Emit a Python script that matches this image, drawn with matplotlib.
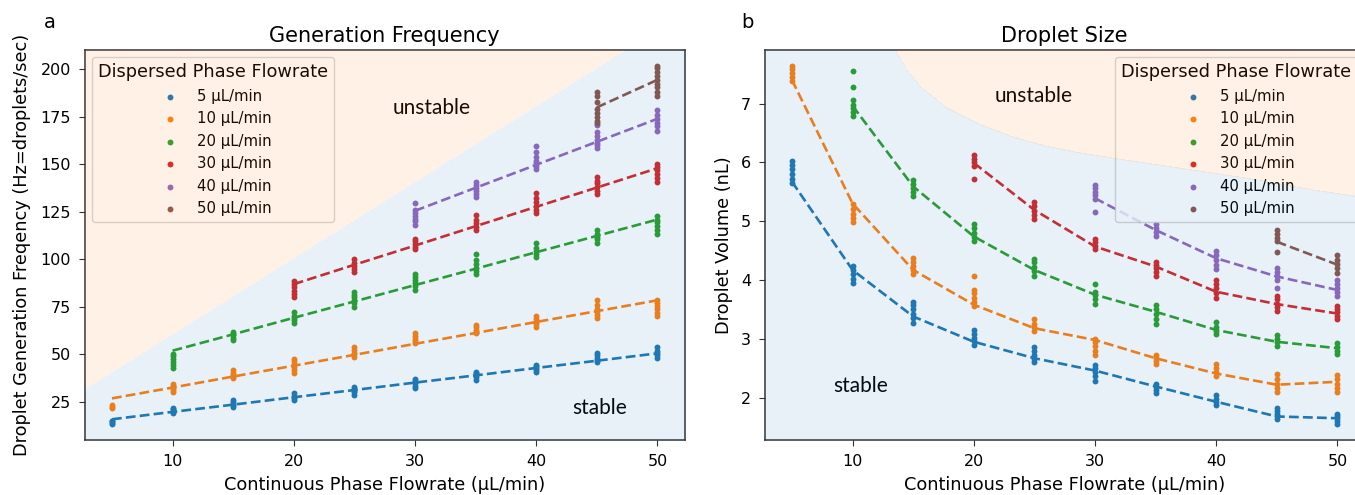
import matplotlib
matplotlib.use("Agg")
import matplotlib.pyplot as plt

# continuous phase flowrates (uL/min)
cont_flow = [5, 10, 15, 20, 25, 30, 35, 40, 45, 50]
disp_labels = ["5 µL/min", "10 µL/min", "20 µL/min", "30 µL/min", "40 µL/min", "50 µL/min"]
colors = ["tab:blue", "tab:orange", "tab:green", "tab:red", "tab:purple", "tab:brown"]
# index in cont_flow where each dispersed flowrate series starts
start_idx = [0, 0, 1, 3, 5, 8]

# ---- generation frequency (Hz), replicate points per continuous flowrate
freq_5 = [[13.4, 14.2, 14.8, 15.2], [19.0, 19.8, 20.4, 21.2, 22.0], [22.3, 23.2, 24.0, 25.0, 26.0],
          [26.0, 27.0, 27.6, 28.4, 29.5], [28.8, 30.0, 31.0, 32.0, 33.0], [32.3, 33.5, 35.0, 36.2, 37.3],
          [36.7, 38.0, 39.0, 40.0, 41.0], [41.0, 42.0, 43.0, 44.0, 44.5], [46.3, 47.3, 48.2, 49.5, 51.0],
          [48.2, 49.5, 50.6, 52.0, 53.8]]
freq_10 = [[21.8, 22.6, 23.2], [30.5, 31.5, 32.5, 33.5, 34.4], [37.5, 38.5, 39.3, 40.5, 41.7],
           [40.3, 42.0, 43.5, 45.0, 46.5, 47.8], [48.8, 50.0, 51.0, 52.5, 53.8], [56.0, 57.0, 58.0, 59.5, 61.5],
           [61.2, 62.0, 63.0, 64.3, 65.4], [64.7, 66.0, 67.0, 68.5, 70.5], [69.2, 71.0, 72.5, 74.0, 76.0, 78.4],
           [70.5, 72.0, 74.0, 75.5, 77.0, 78.8]]
freq_20 = [[42.8, 44.5, 46.0, 47.5, 49.0, 50.5], [57.4, 58.5, 60.0, 61.0, 62.0], [66.5, 68.0, 69.0, 70.5, 72.4],
           [75.2, 77.0, 78.5, 80.0, 81.5, 82.9], [84.0, 86.0, 87.5, 89.0, 91.0, 92.6],
           [92.4, 94.0, 95.5, 97.5, 99.5, 102.7], [101.5, 103.0, 104.5, 106.0, 108.8],
           [108.9, 110.5, 112.0, 113.5, 115.7], [113.5, 115.5, 117.5, 119.5, 121.0, 122.7]]
freq_30 = [[80.5, 82.0, 83.5, 85.5, 87.0, 88.7], [93.6, 95.0, 96.5, 98.0, 100.4], [105.4, 106.5, 108.0, 109.5, 111.0],
           [115.6, 117.0, 119.0, 121.0, 123.3], [124.3, 126.0, 128.0, 130.0, 132.5, 134.9],
           [134.5, 136.0, 138.0, 140.0, 141.5, 143.4], [141.0, 143.0, 145.0, 147.0, 148.5, 150.1]]
freq_40 = [[118.2, 120.0, 121.5, 123.0, 124.5, 126.0, 129.6], [133.0, 134.5, 136.0, 137.5, 139.0, 140.8],
           [147.5, 149.0, 150.5, 152.0, 154.0, 156.5, 159.9], [158.5, 160.0, 161.5, 163.0, 165.0, 167.0, 170.6],
           [167.8, 170.0, 172.0, 174.0, 176.0, 178.5]]
freq_50 = [[171.7, 173.0, 175.0, 177.0, 179.0, 183.0, 186.0, 188.0],
           [186.0, 188.0, 190.5, 192.5, 194.5, 196.5, 198.5, 200.5, 202.0]]

# dashed fit lines (Hz)
freq_fit_5 = [15.9, 19.8, 23.6, 27.5, 31.3, 35.2, 39.0, 42.9, 46.7, 50.6]
freq_fit_10 = [26.9, 32.6, 38.4, 44.1, 49.8, 55.6, 61.3, 67.1, 72.8, 78.5]
freq_fit_20 = [52.0, 60.6, 69.3, 77.9, 86.5, 95.1, 103.8, 112.4, 121.0]
freq_fit_30 = [87.0, 97.2, 107.3, 117.5, 127.7, 137.8, 148.0]
freq_fit_40 = [125.6, 137.7, 149.8, 161.9, 174.0]
freq_fit_50 = [180.0, 194.5]

# ---- droplet volume (nL)
vol_5 = [[5.65, 5.72, 5.8, 5.88, 5.95, 6.02], [3.95, 4.02, 4.1, 4.17, 4.23], [3.27, 3.35, 3.43, 3.5, 3.57, 3.63],
         [2.9, 2.96, 3.02, 3.08, 3.15], [2.6, 2.66, 2.72, 2.79, 2.86], [2.28, 2.36, 2.44, 2.5, 2.56],
         [2.08, 2.13, 2.18, 2.23], [1.88, 1.93, 1.98, 2.04], [1.63, 1.68, 1.72, 1.78, 1.82],
         [1.55, 1.6, 1.65, 1.69, 1.73]]
vol_10 = [[7.38, 7.45, 7.52, 7.58, 7.63], [4.98, 5.05, 5.12, 5.2, 5.3], [4.1, 4.17, 4.24, 4.31, 4.37],
          [3.55, 3.62, 3.7, 3.78, 3.83, 4.07], [3.13, 3.2, 3.26, 3.33], [2.72, 2.8, 2.88, 2.95, 3.0],
          [2.57, 2.63, 2.68, 2.72], [2.37, 2.43, 2.5, 2.57], [2.1, 2.17, 2.24, 2.32, 2.4],
          [2.1, 2.17, 2.24, 2.31, 2.38]]
vol_20 = [[6.78, 6.85, 6.92, 6.97, 7.06, 7.28, 7.56], [5.43, 5.5, 5.57, 5.64, 5.7], [4.66, 4.73, 4.8, 4.88, 4.95],
          [4.07, 4.15, 4.22, 4.3, 4.36], [3.6, 3.67, 3.74, 3.8, 3.94], [3.25, 3.33, 3.42, 3.5, 3.57],
          [3.08, 3.14, 3.2, 3.28], [2.88, 2.94, 3.0, 3.06], [2.74, 2.8, 2.86, 2.93]]
vol_30 = [[5.71, 5.94, 6.0, 6.06, 6.12], [5.03, 5.1, 5.18, 5.25, 5.32], [4.52, 4.58, 4.64, 4.7],
          [4.07, 4.14, 4.2, 4.26, 4.31], [3.7, 3.78, 3.86, 3.93, 4.0], [3.47, 3.54, 3.6, 3.67, 3.72],
          [3.33, 3.39, 3.45, 3.5, 3.55]]
vol_40 = [[5.16, 5.37, 5.44, 5.5, 5.56, 5.62], [4.75, 4.82, 4.88, 4.95], [4.18, 4.26, 4.34, 4.42, 4.5],
          [3.87, 4.0, 4.06, 4.13, 4.2], [3.73, 3.8, 3.87, 3.94, 4.0]]
vol_50 = [[4.48, 4.66, 4.72, 4.79, 4.85], [4.12, 4.2, 4.27, 4.34, 4.42]]

vol_fit_5 = [5.67, 4.17, 3.38, 2.95, 2.67, 2.46, 2.19, 1.93, 1.68, 1.65]
vol_fit_10 = [7.4, 5.3, 4.17, 3.58, 3.18, 2.98, 2.67, 2.41, 2.22, 2.27]
vol_fit_20 = [6.96, 5.59, 4.74, 4.17, 3.75, 3.46, 3.15, 2.95, 2.84]
vol_fit_30 = [5.99, 5.19, 4.57, 4.23, 3.8, 3.59, 3.43]
vol_fit_40 = [5.39, 4.85, 4.37, 4.06, 3.83]
vol_fit_50 = [4.65, 4.26]

# stable / unstable boundaries
bound_a_x = [2.75, 52.25]
bound_a_y = [32.0, 230.0]
bound_b_x = [2.75, 13.1, 13.5, 14.46, 15.56, 17.76, 20.51, 23.23, 26.01, 28.76, 31.49,
             37.01, 42.52, 47.99, 52.25]
bound_b_y = [9.0, 8.3, 7.91, 7.57, 7.29, 6.92, 6.64, 6.43, 6.27, 6.16, 6.07,
             5.90, 5.73, 5.53, 5.40]

freq_ticks = [25, 50, 75, 100, 125, 150, 175, 200]
vol_ticks = [2, 3, 4, 5, 6, 7]
x_ticks = [10, 20, 30, 40, 50]

freq_pts = [freq_5, freq_10, freq_20, freq_30, freq_40, freq_50]
freq_fits = [freq_fit_5, freq_fit_10, freq_fit_20, freq_fit_30, freq_fit_40, freq_fit_50]
vol_pts = [vol_5, vol_10, vol_20, vol_30, vol_40, vol_50]
vol_fits = [vol_fit_5, vol_fit_10, vol_fit_20, vol_fit_30, vol_fit_40, vol_fit_50]

fig = plt.figure(figsize=(13.55, 4.95), dpi=100)
ax1 = fig.add_axes([84.7 / 1355, 55 / 495, 600 / 1355, 390 / 495])
ax2 = fig.add_axes([764.7 / 1355, 55 / 495, 600 / 1355, 390 / 495])


def draw_panel(ax, pts, fits):
    for i in range(6):
        xs = cont_flow[start_idx[i]:]
        ax.plot(xs, fits[i], "--", color=colors[i], lw=1.9)
        px = []
        py = []
        for x, vals in zip(xs, pts[i]):
            for v in vals:
                px.append(x)
                py.append(v)
        ax.scatter(px, py, s=18, color=colors[i], label=disp_labels[i], linewidths=0)


draw_panel(ax1, freq_pts, freq_fits)
draw_panel(ax2, vol_pts, vol_fits)

# shaded regions drawn on top with low alpha (shows through the legend too)
ax1.fill_between(bound_a_x, bound_a_y, 300, color="tab:orange", alpha=0.1, lw=0, zorder=6, antialiased=False)
ax1.fill_between(bound_a_x, -10, bound_a_y, color="tab:blue", alpha=0.1, lw=0, zorder=6, antialiased=False)
ax2.fill_between(bound_b_x, bound_b_y, 10, color="tab:orange", alpha=0.1, lw=0, zorder=6, antialiased=False)
ax2.fill_between(bound_b_x, 0, bound_b_y, color="tab:blue", alpha=0.1, lw=0, zorder=6, antialiased=False)

ax1.set_xlim(2.75, 52.25)
ax1.set_ylim(5.0, 210.2)
ax2.set_xlim(2.75, 52.25)
ax2.set_ylim(1.28, 7.91)

for ax in (ax1, ax2):
    ax.set_xticks(x_ticks)
    ax.tick_params(labelsize=11.5, length=4.3, pad=5.5, color="#333333")
    ax.set_xlabel("Continuous Phase Flowrate (µL/min)", fontsize=12.8, labelpad=5)
    for sp in ax.spines.values():
        sp.set_color("#333333")
        sp.set_linewidth(1.1)
ax1.set_yticks(freq_ticks)
ax2.set_yticks(vol_ticks)

ax1.set_ylabel("Droplet Generation Freqency (Hz=droplets/sec)", fontsize=12.8, labelpad=7)
ax2.set_ylabel("Droplet Volume (nL)", fontsize=12.8, labelpad=6)
ax1.set_title("Generation Frequency", fontsize=15)
ax2.set_title("Droplet Size", fontsize=15)

ax1.legend(title="Dispersed Phase Flowrate", loc="upper left", fontsize=10.7,
           title_fontsize=12.8, framealpha=0.8)
ax2.legend(title="Dispersed Phase Flowrate", loc="upper right", fontsize=10.7,
           title_fontsize=12.8, framealpha=0.8)

ax1.text(31.4, 179.6, "unstable", fontsize=15, family="Lato", ha="center", va="center")
ax1.text(45.2, 22.0, "stable", fontsize=15, family="Lato", ha="center", va="center")
ax2.text(24.9, 7.13, "unstable", fontsize=15, family="Lato", ha="center", va="center")
ax2.text(10.7, 2.19, "stable", fontsize=15, family="Lato", ha="center", va="center")

fig.text(50 / 1355, 1 - 22 / 495, "a", fontsize=14, ha="center", va="center")
fig.text(747 / 1355, 1 - 22 / 495, "b", fontsize=14, ha="center", va="center")

fig.savefig("out.png", dpi=100)
